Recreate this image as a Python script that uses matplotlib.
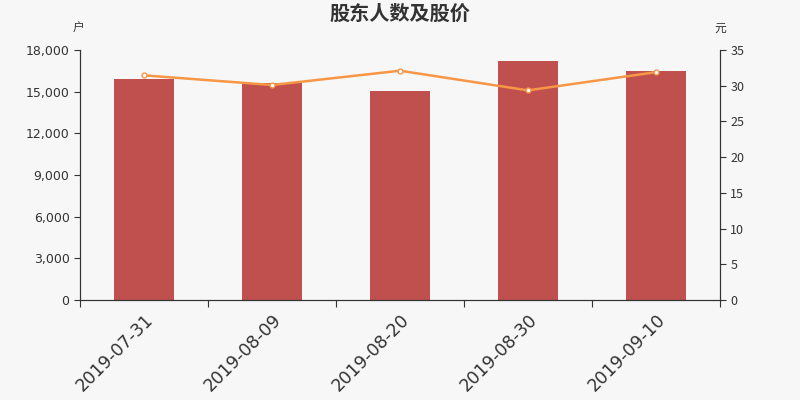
import numpy as np
import matplotlib
matplotlib.use('Agg')
from matplotlib import pyplot as plt

plt.rcParams['font.family'] = ['Noto Sans CJK SC', 'DejaVu Sans']

# 数据
dates = ['2019-07-31', '2019-08-09', '2019-08-20', '2019-08-30', '2019-09-10']
holders = [15880, 15600, 15070, 17230, 16510]
prices = [31.45, 30.1, 32.1, 29.35, 31.9]

bg = '#f7f7f7'
axis_color = '#333333'

fig = plt.figure(figsize=(8, 4), dpi=100, facecolor=bg)
ax = fig.add_axes([0.1, 0.25, 0.8, 0.625])
ax.set_facecolor(bg)
x = np.arange(len(dates))
ax.bar(x, holders, width=0.47, color='#c0504d', zorder=2)
ax.set_xlim(-0.5, len(dates) - 0.5)
ax.set_ylim(0, 18000)
ax.set_yticks(np.arange(0, 18001, 3000))
ax.set_yticklabels([f'{v:,}' for v in range(0, 18001, 3000)], fontsize=9, color=axis_color,
                   family='DejaVu Sans')

# x 轴刻度在分界处, 标签在中间
ax.set_xticks(np.arange(-0.5, len(dates), 1.0))
ax.set_xticklabels([])
ax.set_xticks(x, minor=True)
ax.set_xticklabels(dates, minor=True, rotation=45, ha='right', rotation_mode='anchor',
                   fontsize=12.5, color=axis_color, family='DejaVu Sans')
ax.tick_params(axis='x', which='minor', length=0, pad=8)
ax.tick_params(axis='x', which='major', length=5, color=axis_color)
ax.tick_params(axis='y', length=4, color=axis_color)

ax2 = ax.twinx()
ax2.plot(x, prices, color='#f79646', lw=1.8, marker='o', ms=3.5,
         markerfacecolor='white', markeredgecolor='#f79646', markeredgewidth=1, zorder=3)
ax2.set_ylim(0, 35)
ax2.set_yticks(np.arange(0, 36, 5))
ax2.tick_params(axis='y', length=4, color=axis_color, labelsize=9, labelcolor=axis_color)

for a in (ax, ax2):
    a.spines['top'].set_visible(False)
    for s in ('left', 'right', 'bottom'):
        a.spines[s].set_color(axis_color)
ax.set_zorder(ax2.get_zorder() - 1)
ax2.patch.set_visible(False)

fig.text(0.5, 0.967, '股东人数及股价', ha='center', va='center', fontsize=14.5,
         fontweight='bold', color=axis_color)
fig.text(0.098, 0.928, '户', ha='center', va='center', fontsize=8.5, color=axis_color)
fig.text(0.9, 0.928, '元', ha='center', va='center', fontsize=8.5, color=axis_color)

fig.savefig('out.png', facecolor=bg)
